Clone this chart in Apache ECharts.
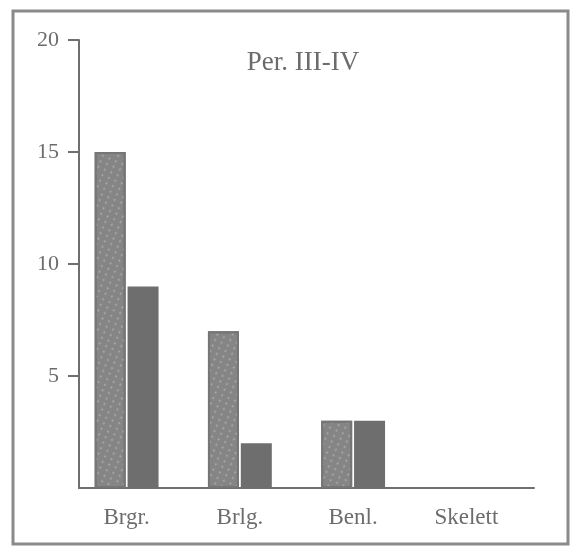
<!DOCTYPE html>
<html><head><meta charset="utf-8">
<script src="https://cdn.jsdelivr.net/npm/echarts@6/dist/echarts.min.js"></script>
<style>html,body{margin:0;padding:0;background:#fff}#c{width:576px;height:554px}</style>
</head><body><div id="c"></div>
<script>
const categories = ['Brgr.', 'Brlg.', 'Benl.', 'Skelett'];
const dottedValues = [15, 7, 3, 0];
const solidValues = [9, 2, 3, 0];
const yTicks = [0, 5, 10, 15, 20];
const title = 'Per. III-IV';

const chart = echarts.init(document.getElementById('c'));
const font = 'Liberation Serif';
const grey = '#6f6f6f';
const textGrey = '#6c6c6c';
chart.setOption({
  backgroundColor: '#fff',
  animation: false,
  title: { text: title, left: 298, top: 44, textAlign: 'center',
    textStyle: { fontFamily: font, fontSize: 27, fontWeight: 'normal', color: textGrey } },
  graphic: [{ type: 'rect', shape: { x: 13, y: 11, width: 555, height: 533 },
    style: { fill: 'none', stroke: '#8a8a8a', lineWidth: 3 }, silent: true }],
  grid: [
    { left: 70, right: 53, top: 40, bottom: 66 },
    { left: 79, right: 42, top: 40, bottom: 66 }
  ],
  xAxis: [
    { type: 'category', gridIndex: 0, data: categories,
      axisLine: { show: false }, axisTick: { show: false },
      axisLabel: { fontFamily: font, fontSize: 23, color: textGrey, margin: 18 } },
    { type: 'value', gridIndex: 1, min: 0, max: 1,
      axisLine: { show: true, lineStyle: { color: grey, width: 2 } },
      axisTick: { show: false }, axisLabel: { show: false }, splitLine: { show: false } }
  ],
  yAxis: [
    { type: 'value', gridIndex: 0, min: 0, max: 20, interval: 5, show: false },
    { type: 'value', gridIndex: 1, min: 0, max: 20, interval: 5,
      axisLine: { show: true, lineStyle: { color: grey, width: 2 } },
      axisTick: { show: true, length: 11, lineStyle: { color: grey, width: 2 },
        customValues: yTicks.filter(v => v > 0) },
      axisLabel: { fontFamily: font, fontSize: 22, color: textGrey, margin: 20,
        customValues: yTicks.filter(v => v > 0) },
      splitLine: { show: false } }
  ],
  series: [
    { type: 'bar', xAxisIndex: 0, yAxisIndex: 0,
      data: dottedValues.map(v => v === 0 ? { value: v, itemStyle: { borderWidth: 0 } } : v),
      barWidth: 31, barGap: '6%',
      itemStyle: { color: '#858585', borderColor: '#767676', borderWidth: 2,
        decal: { symbol: 'circle', symbolSize: 0.6, color: 'rgba(210,210,210,0.6)',
          dashArrayX: [[3, 4]], dashArrayY: [3, 3], rotation: 0.4 } } },
    { type: 'bar', xAxisIndex: 0, yAxisIndex: 0, data: solidValues,
      barWidth: 31,
      itemStyle: { color: '#6e6e6e', decal: { symbol: 'rect', color: 'rgba(0,0,0,0)' } } }
  ],
  aria: { enabled: true, decal: { show: true } }
});
</script></body></html>
